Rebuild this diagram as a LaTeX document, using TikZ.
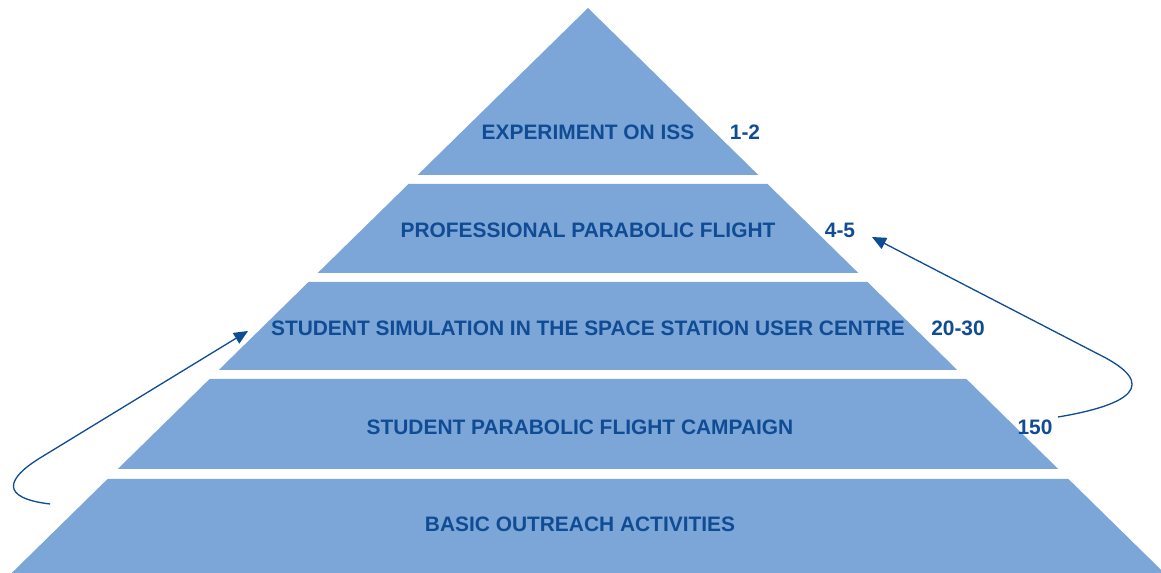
\documentclass[tikz,border=0pt]{standalone}
\usepackage{fontspec}
\setmainfont{Liberation Sans}
\usetikzlibrary{arrows.meta}
\definecolor{layerblue}{RGB}{124,166,216}
\definecolor{textblue}{RGB}{16,76,148}

\begin{document}
\begin{tikzpicture}[x=0.02cm,y=-0.02cm,
  layer/.style={fill=layerblue},
  lbl/.style={text=textblue,font=\bfseries\fontsize{11.9}{13}\selectfont,inner sep=0pt},
  flow/.style={draw=textblue,line width=0.75pt,-{Triangle[length=8pt,width=7pt]}}]
  \clip (0,0) rectangle (1161,573);
  % pyramid layers
  \foreach \t/\b in {8/175,184/273,282/370,379/469,479/573}
    \fill[layer] ({588-1.02*(\t-8)},\t) -- ({588+1.02*(\t-8)},\t) -- ({588+1.02*(\b-8)},\b) -- ({588-1.02*(\b-8)},\b) -- cycle;
  % layer names
  \node[lbl] (iss) at (588,132.5) {EXPERIMENT ON ISS};
  \node[lbl] (prof) at (588,230) {PROFESSIONAL PARABOLIC FLIGHT};
  \node[lbl] (sim) at (588,328) {STUDENT SIMULATION IN THE SPACE STATION USER CENTRE};
  \node[lbl] (camp) at (580,427) {STUDENT PARABOLIC FLIGHT CAMPAIGN};
  \node[lbl] (basic) at (580,524) {BASIC OUTREACH ACTIVITIES};
  % numbers
  \node[lbl] (n12) at (745,132.5) {1-2};
  \node[lbl] (n45) at (840,230) {4-5};
  \node[lbl] (n2030) at (958,328) {20-30};
  \node[lbl] (n150) at (1035,427) {150};
  % arrows
  \coordinate (lfrom) at (50,504);
  \coordinate (lto) at (248,331);
  \coordinate (rfrom) at (1058,417);
  \coordinate (rto) at (872,237);
  \draw[flow] (lfrom) .. controls (0,498) and (6,479) .. (40,458) -- (lto);
  \draw[flow] (rfrom) .. controls (1130,405) and (1160,385) .. (1100,355) -- (rto);
\end{tikzpicture}
\end{document}
